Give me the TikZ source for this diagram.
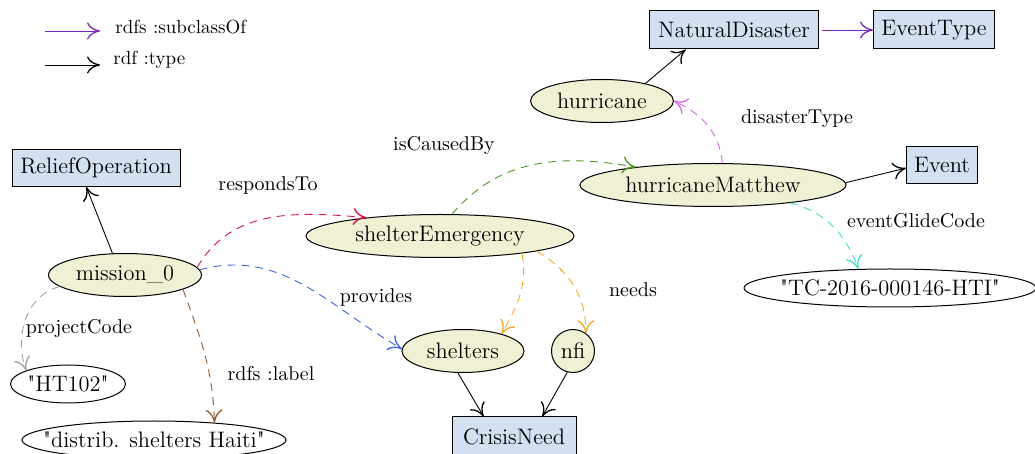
\documentclass[tikz,border=0pt]{standalone}
\usetikzlibrary{arrows.meta,shapes.geometric}
\definecolor{efill}{RGB}{240,240,212}
\definecolor{bfill}{RGB}{211,224,240}
\definecolor{cpurple}{RGB}{120,40,190}
\definecolor{cred}{RGB}{220,20,60}
\definecolor{cblue}{RGB}{60,100,225}
\definecolor{cgreen}{RGB}{75,150,35}
\definecolor{corange}{RGB}{245,166,35}
\definecolor{cbrown}{RGB}{140,90,50}
\definecolor{cgray}{RGB}{160,160,160}
\definecolor{cmag}{RGB}{215,100,235}
\definecolor{cturq}{RGB}{64,224,200}
\begin{document}
\begin{tikzpicture}[x=0.5pt,y=-0.5pt,
  tip/.style={-{Computer Modern Rightarrow[length=6.5pt,width=8.5pt,line width=0.65pt]}},
  nfont/.style={font=\fontsize{11.2}{13}\selectfont},
  base/.style={inner sep=0pt,nfont,line width=0.5pt,draw=black},
  ent/.style={base,ellipse,fill=efill,label={[nfont,inner sep=0pt]center:#1}},
  lit/.style={base,ellipse,fill=white,label={[nfont,inner sep=0pt]center:#1}},
  cls/.style={base,rectangle,fill=bfill},
  elab/.style={inner sep=0pt,font=\fontsize{10}{12}\selectfont},
  leglab/.style={inner sep=0pt,font=\fontsize{9.5}{11}\selectfont,anchor=west},
  typ/.style={tip,line width=0.45pt,draw=black},
  prop/.style={tip,line width=0.45pt,dash pattern=on 4pt off 3pt}
]
\useasboundingbox (0,0) rectangle (1035,454);
% legend
\coordinate (la1) at (45,31); \coordinate (lb1) at (100,31);
\coordinate (la2) at (45,65); \coordinate (lb2) at (100,65);
\draw[tip,line width=0.45pt,cpurple] (la1) -- (lb1);
\draw[typ] (la2) -- (lb2);
\node[leglab] (leg1) at (115,27) {rdfs :subclassOf};
\node[leglab] (leg2) at (113,60) {rdf :type};
% class boxes
\node[cls,minimum width=84pt,minimum height=18.5pt] (relief) at (96,168) {ReliefOperation};
\node[cls,minimum width=84.5pt,minimum height=19pt] (natdis) at (734,30) {NaturalDisaster};
\node[cls,minimum width=60.5pt,minimum height=19pt] (evtype) at (934,30) {EventType};
\node[cls,minimum width=35.5pt,minimum height=18.5pt] (event) at (942,165) {Event};
\node[cls,minimum width=62pt,minimum height=20pt] (crisis) at (514,437) {CrisisNeed};
% entities
\node[ent={mission\_0},minimum width=76.5pt,minimum height=21.5pt] (mission) at (125,275) {};
\node[ent={shelterEmergency},minimum width=134pt,minimum height=21.5pt] (shelterEm) at (440,236) {};
\node[ent={hurricaneMatthew},minimum width=133pt,minimum height=21.5pt] (hm) at (713,185) {};
\node[ent={hurricane},minimum width=71.5pt,minimum height=21.5pt] (hurricane) at (602,101) {};
\node[ent={shelters},minimum width=61pt,minimum height=21.5pt] (shelters) at (463,351) {};
\node[base,circle,fill=efill,minimum size=21.5pt] (nfi) at (573,351) {nfi};
% literals
\node[lit={\textquotedbl HT102\textquotedbl},minimum width=57.5pt,minimum height=19pt] (ht) at (68,384) {};
\node[lit={\textquotedbl distrib. shelters Haiti\textquotedbl},minimum width=132pt,minimum height=19pt] (distrib) at (154,440) {};
\node[lit={\textquotedbl TC-2016-000146-HTI\textquotedbl},minimum width=146pt,minimum height=19pt] (tc) at (890,288) {};
% typing / subclass edges
\draw[typ] (mission.120) -- (relief.243);
\draw[typ] (hurricane.22) -- (natdis.202);
\draw[tip,line width=0.45pt,cpurple,shorten <=1.5pt] (natdis) -- (evtype);
\draw[typ] (hm.1) -- (event.185);
\draw[typ] (shelters.257) -- (crisis.146);
\draw[typ] (nfi.255) -- (crisis.36);
% property edges
\draw[prop,cred] (mission.6) to[out=60,in=175] (shelterEm.166);
\draw[prop,cblue] (mission.4) to[out=15,in=150] (shelters.178);
\draw[prop,cgray] (mission.190) to[out=195,in=110] (ht.162);
\draw[prop,cbrown] (mission.-14.5) to[out=-70,in=92] (distrib.16);
\draw[prop,cgreen] (shelterEm.61) to[out=50,in=170] (hm.167);
\draw[prop,cmag] (hm.67) to[out=95,in=-25] (hurricane.east);
\draw[prop,cturq] (hm.-13) to[out=-15,in=110] (tc.149);
\draw[prop,corange] (shelterEm.-12) to[out=-80,in=60] (shelters.24);
\draw[prop,corange] (shelterEm.-9.5) to[out=-30,in=90] (nfi.54);
% edge labels
\node[elab] (lresp) at (268,186) {respondsTo};
\node[elab] (lcaus) at (444,146) {isCausedBy};
\node[elab] (lprov) at (376,298) {provides};
\node[elab] (lneed) at (633,290) {needs};
\node[elab] (ldis) at (797,119) {disasterType};
\node[elab] (lglide) at (916,221) {eventGlideCode};
\node[elab] (lproj) at (79,329) {projectCode};
\node[elab] (lrdfs) at (271,374) {rdfs :label};
\end{tikzpicture}
\end{document}
